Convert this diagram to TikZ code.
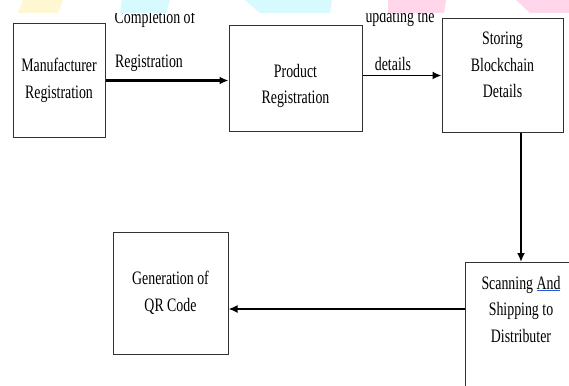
\documentclass[tikz,border=0pt]{standalone}
\usepackage{fontspec}
\setmainfont[FakeStretch=0.73]{Liberation Serif}
\usetikzlibrary{arrows.meta}
\definecolor{boxgray}{RGB}{50,50,50}
\definecolor{ulblue}{RGB}{40,90,220}
\definecolor{wmyellow}{RGB}{255,246,210}
\definecolor{wmcyan}{RGB}{214,250,253}
\definecolor{wmpink}{RGB}{255,214,234}
\begin{document}
\begin{tikzpicture}[x=1pt,y=-1pt,
    stepbox/.style={draw=boxgray,line width=1pt,align=center,font=\fontsize{19}{26.5}\selectfont},
    lbl/.style={align=center,font=\fontsize{19}{26.5}\selectfont},
    flow/.style={-{Latex[length=9pt,width=8pt]},line width=1.8pt}]
\useasboundingbox (0,0) rectangle (569,385);
\clip (0,0) rectangle (569,385);
% boxes
\node[stepbox,minimum width=92pt,minimum height=113pt] (manu) at (59,80.5) {Manufacturer\\Registration};
\node[stepbox,minimum width=133pt,minimum height=105pt] (prod) at (295.5,78.5) {};
\node[lbl] (prodtext) at (295.5,86) {Product\\Registration};
\node[stepbox,minimum width=121pt,minimum height=113pt] (store) at (502.5,75.5) {};
\node[lbl] (storetext) at (502.5,65) {Storing\\Blockchain\\Details};
\node[stepbox,minimum width=115pt,minimum height=122pt] (qr) at (170.5,293) {Generation of\\QR Code};
\node[stepbox,minimum width=110pt,minimum height=140pt,anchor=north west] (scan) at (465,262) {};
\node[lbl] (scantext) at (521,309) {Scanning {\color{ulblue}\underline{\textcolor{black}{And}}}\\Shipping to\\Distributer};
% labels
\node[lbl] (lcomp) at (155,19) {Completion of};
\node[lbl] (lreg) at (149,63) {Registration};
\node[lbl] (lupd) at (400,18) {updating the};
\node[lbl] (ldet) at (393,64) {details};
% connectors
\draw[flow,line width=2.6pt] (manu.east) -- (manu.east -| prod.west);
\draw[flow] (store.west -| prod.east) -- (store.west);
\draw[flow] (scantext |- store.south) -- (scantext |- scan.north);
\draw[flow] (scantext -| scan.west) -- (scantext -| qr.east);
% faint banner at the top
\fill[white] (0,0) rectangle (569,13);
\fill[wmyellow] (23,0) -- (63,0) -- (58,13) -- (18,13) -- cycle;
\fill[wmcyan] (122,0) -- (170,0) -- (166,13) -- (120,13) -- cycle;
\fill[wmcyan] (245,0) -- (332,0) -- (330,13) -- (260,13) -- cycle;
\fill[wmpink] (388,0) -- (446,0) -- (444,13) -- (388,13) -- cycle;
\fill[wmpink] (516,0) -- (569,0) -- (569,13) -- (530,13) -- cycle;
\end{tikzpicture}
\end{document}
